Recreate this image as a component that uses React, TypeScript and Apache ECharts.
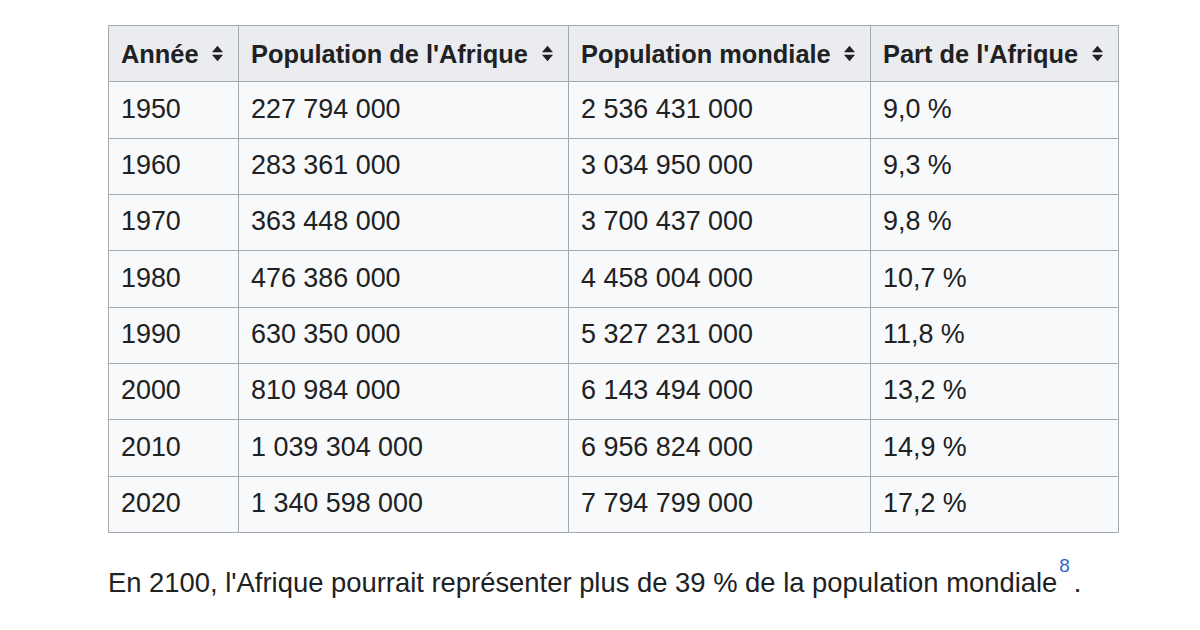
import React, { useEffect, useRef } from "react";
import * as echarts from "echarts";

const headers = ["Année", "Population de l'Afrique", "Population mondiale", "Part de l'Afrique"];
const years = [1950, 1960, 1970, 1980, 1990, 2000, 2010, 2020];
const africaPop = [227794000, 283361000, 363448000, 476386000, 630350000, 810984000, 1039304000, 1340598000];
const worldPop = [2536431000, 3034950000, 3700437000, 4458004000, 5327231000, 6143494000, 6956824000, 7794799000];
const africaShare = [9.0, 9.3, 9.8, 10.7, 11.8, 13.2, 14.9, 17.2];
const footnoteText = "En 2100, l'Afrique pourrait représenter plus de 39 % de la population mondiale";
const footnoteRef = "8";

// layout (not data)
const colBounds = [0, 130, 460, 762, 1010];
const FONT = "'Liberation Sans', Arial, Helvetica, sans-serif";
const TEXT = "#202122";
const BORDER = "#a2a9b1";
const LINK = "#3366cc";

const fmtInt = (n: number) => String(n).replace(/\B(?=(\d{3})+(?!\d))/g, " ");
const fmtPct = (v: number) => v.toFixed(1).replace(".", ",") + " %";

export default function App() {
  const ref = useRef<HTMLDivElement>(null);
  useEffect(() => {
    if (!ref.current) return;
    const chart = echarts.init(ref.current, null, { renderer: "svg" });
    const rowNames = ["header", ...years.map(String)];
    const cells: { value: number[]; text: string }[] = [];
    rowNames.forEach((_, r) => {
      for (let c = 0; c < 4; c++) {
        let text = "";
        if (r === 0) text = headers[c];
        else {
          const i = r - 1;
          text = c === 0 ? String(years[i]) : c === 1 ? fmtInt(africaPop[i]) : c === 2 ? fmtInt(worldPop[i]) : fmtPct(africaShare[i]);
        }
        cells.push({ value: [c, r], text });
      }
    });

    chart.setOption({
      animation: false,
      grid: { left: 108, top: 25, width: 1010, height: 507 },
      xAxis: { type: "value", min: 0, max: 1010, show: false },
      yAxis: { type: "category", data: rowNames, inverse: true, show: false },
      series: [
        {
          type: "custom",
          clip: false,
          data: cells,
          renderItem: (params: any, api: any) => {
            const c = api.value(0);
            const r = api.value(1);
            const p0 = api.coord([colBounds[c], r]);
            const p1 = api.coord([colBounds[c + 1], r]);
            const h = api.size([0, 1])[1];
            const x0 = Math.round(p0[0]) + 0.5;
            const x1 = Math.round(p1[0]) + 0.5;
            const yTop = Math.round(p0[1] - h / 2) + 0.5;
            const yBot = Math.round(p0[1] + h / 2) + 0.5;
            const isHead = r === 0;
            const children: any[] = [
              {
                type: "rect",
                shape: { x: x0, y: yTop, width: x1 - x0, height: yBot - yTop },
                style: { fill: isHead ? "#eaecf0" : "#f8f9fa", stroke: BORDER, lineWidth: 1 },
              },
              {
                type: "text",
                x: x0 + 12.5,
                y: p0[1] + (isHead ? 1 : -1),
                style: {
                  text: cells[params.dataIndex].text,
                  fill: TEXT,
                  font: isHead ? "bold 25.4px " + FONT : "26.9px " + FONT,
                  verticalAlign: "middle",
                  align: "left",
                },
              },
            ];
            if (isHead) {
              const ix = x1 - 21;
              const cy = p0[1];
              children.push(
                {
                  type: "polygon",
                  shape: { points: [[ix - 5.5, cy - 1], [ix + 5.5, cy - 1], [ix, cy - 7.5]] },
                  style: { fill: TEXT },
                },
                {
                  type: "polygon",
                  shape: { points: [[ix - 5.5, cy + 1.5], [ix + 5.5, cy + 1.5], [ix, cy + 8]] },
                  style: { fill: TEXT },
                }
              );
            }
            return { type: "group", children };
          },
        },
      ],
      graphic: [
        {
          type: "text",
          x: 108,
          y: 582,
          style: {
            text: "{a|" + footnoteText + "}{sup|" + footnoteRef + "}{a|.}",
            verticalAlign: "middle",
            fill: TEXT,
            rich: {
              a: { fontSize: 27.4, fontFamily: FONT, fill: TEXT, color: TEXT, lineHeight: 52 },
              sup: { fontSize: 19, fontFamily: FONT, fill: LINK, color: LINK, lineHeight: 19, verticalAlign: "top", padding: [0, 4, 0, 2] },
            },
          },
        },
      ],
    });
    return () => chart.dispose();
  }, []);
  return (
    <div
      ref={ref}
      style={{ position: "fixed", left: 0, top: 0, width: 1200, height: 630, background: "#ffffff" }}
    />
  );
}
